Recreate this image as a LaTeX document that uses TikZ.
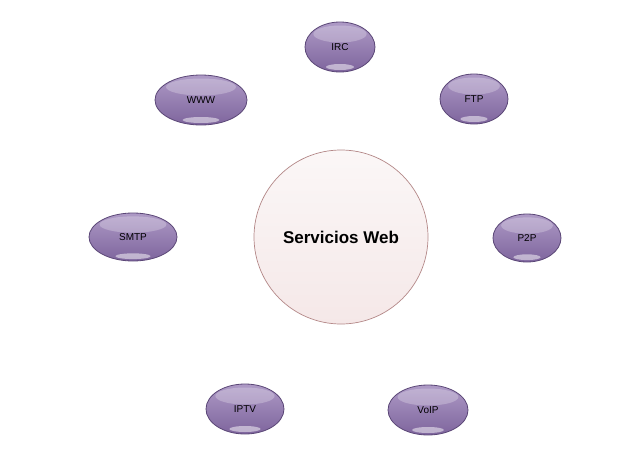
\documentclass[tikz,border=0pt]{standalone}
\usepackage{fontspec}
\setmainfont{Liberation Sans}
\usetikzlibrary{shapes.geometric}
\definecolor{pTop}{HTML}{AE9AC6}
\definecolor{pBot}{HTML}{7E659D}
\definecolor{pEdge}{HTML}{5B4777}
\definecolor{cTop}{HTML}{FBF7F7}
\definecolor{cBot}{HTML}{F5E8E8}
\definecolor{cEdge}{HTML}{B48888}
\tikzset{
  svc/.style={ellipse, draw=pEdge, line width=0.8pt, top color=pTop, bottom color=pBot,
    inner sep=0pt},
  lbl/.style={font=\fontsize{10}{12}\selectfont, text=black},
  hub/.style={circle, draw=cEdge, line width=0.7pt, top color=cTop, bottom color=cBot,
    minimum size=174pt, inner sep=0pt, font=\bfseries\fontsize{17}{20}\selectfont},
  gloss/.style={fill=white, opacity=0.25},
  glossb/.style={fill=white, opacity=0.5}
}
\newcommand{\svcnode}[6]{%
  \node[svc, minimum width=#4pt, minimum height=#5pt] (#1) at (#2,#3) {};
  \fill[gloss] (#2,#3-#5*0.26) ellipse ({#4*0.38pt} and {#5*0.17pt});
  \fill[glossb] (#2,#3+#5*0.40) ellipse ({#4*0.2pt} and {#5*0.06pt});
  \node[lbl] at (#1.center) {#6};
}
\begin{document}
\begin{tikzpicture}[x=1pt,y=-1pt]
\useasboundingbox (0,0) rectangle (640,453);
\fill[white] (0,0) rectangle (640,453);
\node[hub] (hub) at (341,237) {Servicios Web};
\svcnode{irc}{340}{47}{70}{50}{IRC}
\svcnode{www}{201}{100}{92}{50}{WWW}
\svcnode{ftp}{474}{99}{68}{50}{FTP}
\svcnode{smtp}{133}{237}{88}{48}{SMTP}
\svcnode{ptp}{527}{238}{68}{48}{P2P}
\svcnode{iptv}{245}{409}{78}{50}{IPTV}
\svcnode{voip}{428}{410}{80}{50}{VoIP}
\end{tikzpicture}
\end{document}
